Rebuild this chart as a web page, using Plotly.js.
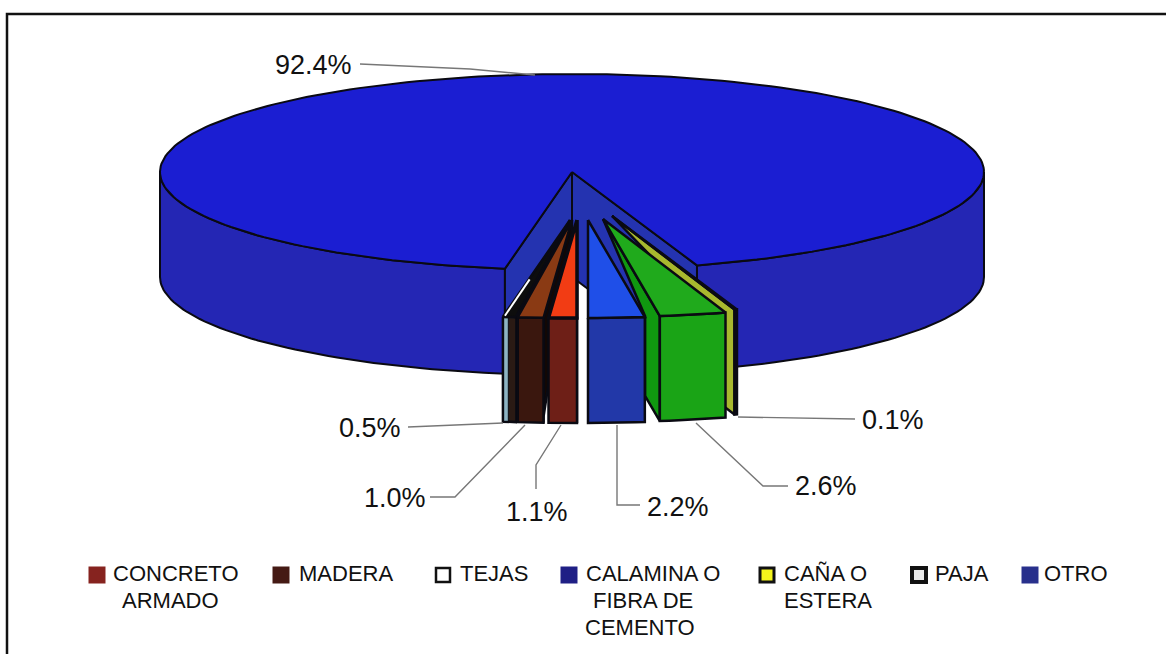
<!DOCTYPE html>
<html><head><meta charset="utf-8">
<script src="https://cdn.plot.ly/plotly-3.0.1.min.js"></script>
<style>html,body{margin:0;padding:0;background:#fff}#c{width:1166px;height:654px}</style>
</head><body><div id="c"></div>
<script>
// ---- data ----
const sliceNames = ["PAJA","MADERA","CONCRETO ARMADO","CALAMINA O FIBRA DE CEMENTO","TEJAS","CAÑA O ESTERA"];
const sliceValues = [0.5,1.0,1.1,2.2,2.6,0.1];
const mainValue = 92.4;
const labelTexts = ["0.5%","1.0%","1.1%","2.2%","2.6%","0.1%"];
const mainLabel = "92.4%";
const legendLines = [["CONCRETO","ARMADO"],["MADERA"],["TEJAS"],["CALAMINA O","FIBRA DE","CEMENTO"],["CAÑA O","ESTERA"],["PAJA"],["OTRO"]];
const legendColors = ["#86231f","#451a14","#ffffff","#1f1f85","#f4f41c","#e8e8e8","#28308c"];

// ---- projection of the 3-D pie ----
const cx=572, cy=172, rx=412, ry=98, depth=105;
const topCols  = ["#0d0d0d","#8a3a14","#f23c14","#1f4fe8","#20aa1c","#b4c23c"];
const sideCols = ["#8db4c4","#3a170e","#6e1f17","#2238a8","#1aa416","#a8bc30"];
const cutCols  = ["#111","#120805","#111","#111","#109810","#a8b82e"];
const shiftX   = [-2,0,5,16,31,40];
const shiftY   = [48,48,48,48,47,44];
const rad=d=>d*Math.PI/180;
const P=(deg,dx=0,dy=0,z=0)=>[cx+dx+rx*Math.sin(rad(deg)), cy+dy+ry*Math.cos(rad(deg))+z];
const arc=(a,b,dx,dy,z)=>{const o=[],n=Math.max(2,Math.ceil(Math.abs(b-a)/1.5));for(let i=0;i<=n;i++)o.push(P(a+(b-a)*i/n,dx,dy,z));return o;};
const traces=[];
function poly(pts,fill,lw=2,line="#0a0a12"){
  traces.push({type:"scatter",mode:"lines",x:[...pts.map(p=>p[0]),pts[0][0]],y:[...pts.map(p=>p[1]),pts[0][1]],
    fill:"toself",fillcolor:fill,line:{color:line,width:lw},hoverinfo:"skip",showlegend:false});
}
function path(pts,color,w){
  traces.push({type:"scatter",mode:"lines",x:pts.map(p=>p[0]),y:pts.map(p=>p[1]),line:{color,width:w},hoverinfo:"skip",showlegend:false});
}
const total=mainValue+sliceValues.reduce((a,b)=>a+b,0);
// the CALAMINA slice has its left edge straight towards the viewer (angle 0)
const startAngle=-(sliceValues[0]+sliceValues[1]+sliceValues[2])*360/total;
const endAngle=startAngle+sliceValues.reduce((a,b)=>a+b,0)*360/total;
// main slice: outer wall, inner walls, top
poly([...arc(endAngle,90,0,0,0),...arc(90,endAngle,0,0,depth)],"#2426b4");
poly([...arc(startAngle,-90,0,0,0),...arc(-90,startAngle,0,0,depth)],"#2426b4");
const A=[cx,cy];
poly([A,P(startAngle),P(startAngle,0,0,depth),[cx,cy+depth]],"#2433b0");
poly([A,P(endAngle),P(endAngle,0,0,depth),[cx,cy+depth]],"#2433b0");
path([[cx,cy],[cx,cy+depth]],"#0a0a12",2);
poly([A,...arc(endAngle,360+startAngle,0,0,0)],"#1b1ed2");

// exploded slices, drawn back to front
let a0=startAngle; const spans=[];
sliceValues.forEach(v=>{const s=v*360/total;spans.push([a0,a0+s]);a0+=s;});
function drawSlice(i){
  const [a,b]=spans[i], dx=shiftX[i], dy=shiftY[i];
  const apex=[cx+dx,cy+dy];
  if(b<=0){ // right cut face is visible
    const o=P(b,dx,dy);
    poly([apex,o,[o[0],o[1]+depth],[o[0],o[1]+depth-6],[apex[0],apex[1]+10]],cutCols[i],2.5);
  }
  if(a>0){ // left cut face is visible, partly hidden by the neighbour
    const o=P(a,dx,dy), back=0.26;
    const q=[o[0]+(apex[0]-o[0])*back,o[1]+depth+(apex[1]-o[1])*back];
    poly([apex,o,[o[0],o[1]+depth],q,[q[0],o[1]]],cutCols[i],2.5);
  }
  poly([...arc(a,b,dx,dy,0),...arc(b,a,dx,dy,depth)],sideCols[i],2.5);
  poly([apex,...arc(a,b,dx,dy,0)],topCols[i],i===2?3.5:2.5);
  if(i===0){ // the thin PAJA slice: dark shaded part of its front and a white sliver on top
    const m=a+(b-a)*0.42;
    poly([...arc(m,b,dx,dy,1),...arc(b,m,dx,dy,depth-1)],"#2a1a14",1);
    const o=P(a,dx+2,dy-1);
    path([o,[o[0]+(apex[0]-o[0])*0.38,o[1]+(apex[1]-o[1])*0.38]],"#ffffff",2);
  }
}
[5,4,0,1,2,3].forEach(drawSlice);

// leader lines
const ann=[];
const labelPos=[[370,428],[395,498],[537,512],[678,507],[826,486],[893,420]];
const leaderPts=[[[408,427],[503,423]],[[430,497],[455,497],[525,425]],[[536,489],[536,465],[561,425]],[[640,505],[617,505],[617,425]],[[788,486],[763,486],[696,423]],[[855,419],[738,417]]];
leaderPts.forEach(l=>path(l,"#777",1.4));
path([[360,64],[470,69],[535,75]],"#777",1.4);
const font={family:"Liberation Sans, Arial, sans-serif",color:"#111",size:27};
labelTexts.forEach((t,i)=>ann.push({x:labelPos[i][0],y:labelPos[i][1],text:t,showarrow:false,xanchor:"center",yanchor:"middle",font}));
ann.push({x:313,y:65,text:mainLabel,showarrow:false,xanchor:"center",yanchor:"middle",font});

// legend
const legX=[97,281,443,569,767,919,1030];
const legBorder=[0,0,2.5,0,3,4,0];
const legLineX=[[176,170],[346],[494],[653,643,640],[825,828],[962],[1076]];
const legLineY=[573,600,627];
const legFont={family:"Liberation Sans, Arial, sans-serif",color:"#111",size:22};
legendLines.forEach((lines,i)=>lines.forEach((t,j)=>{
  ann.push({x:legLineX[i][j],y:legLineY[j],text:t,showarrow:false,xanchor:"center",yanchor:"middle",font:legFont});
}));
traces.push({type:"scatter",mode:"markers",x:legX,y:legX.map(()=>575),
  marker:{symbol:"square",opacity:1,size:legBorder.map(b=>b?14:17),color:legendColors,line:{color:"#111",width:legBorder}},hoverinfo:"skip",showlegend:false});

Plotly.newPlot("c",traces,{
  width:1166,height:654,margin:{l:0,r:0,t:0,b:0},showlegend:false,
  paper_bgcolor:"#fff",plot_bgcolor:"#fff",
  xaxis:{range:[0,1166],visible:false,fixedrange:true},
  yaxis:{range:[654,0],visible:false,fixedrange:true},
  annotations:ann,
  shapes:[{type:"rect",xref:"x",yref:"y",x0:7,y0:14,x1:1200,y1:700,line:{color:"#111",width:2.5},fillcolor:"rgba(0,0,0,0)"}]
},{displayModeBar:false,staticPlot:true});
</script></body></html>
